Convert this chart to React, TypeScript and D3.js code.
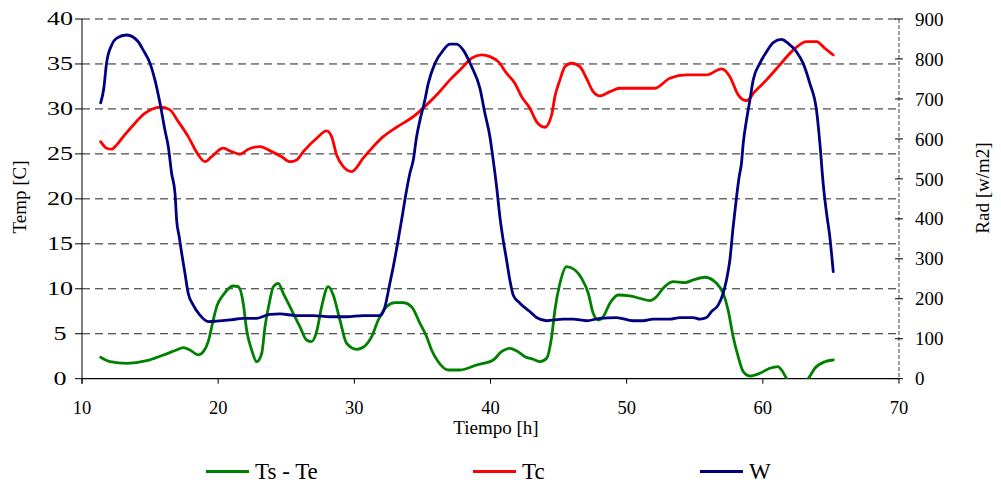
import React from "react";
import * as d3 from "d3";

const xTicks = [10, 20, 30, 40, 50, 60, 70];
const leftTicks = [0, 5, 10, 15, 20, 25, 30, 35, 40];
const rightTicks = [0, 100, 200, 300, 400, 500, 600, 700, 800, 900];

const wTime = [11.37, 11.6, 11.8, 12.18, 12.55, 13.28, 14.13, 14.5, 15.0, 15.36, 15.73, 16.09, 16.34, 16.58, 16.83, 16.95, 17.14, 17.32, 17.56, 17.8, 18.17, 18.66, 19.27, 19.89, 20.87, 21.84, 22.83, 23.8, 24.54, 25.76, 26.98, 28.2, 29.43, 30.65, 31.88, 32.25, 32.61, 32.86, 33.22, 33.47, 33.84, 34.08, 34.33, 34.57, 34.82, 35.18, 35.43, 35.92, 36.53, 37.02, 37.51, 38.0, 38.61, 39.22, 39.59, 39.96, 40.2, 40.45, 40.69, 40.93, 41.18, 41.42, 41.67, 42.16, 42.89, 43.38, 44.12, 45.34, 46.07, 47.05, 48.03, 49.25, 50.48, 51.21, 51.95, 53.17, 53.91, 54.89, 55.38, 55.87, 56.23, 56.72, 57.09, 57.33, 57.58, 57.82, 58.07, 58.26, 58.43, 58.56, 58.8, 59.05, 59.29, 59.78, 60.27, 60.76, 61.37, 61.86, 62.47, 62.96, 63.45, 63.94, 64.19, 64.43, 64.68, 64.92, 65.17];
const wValues = [690, 726, 789, 835, 852, 860, 843, 822, 789, 747, 689, 622, 580, 514, 464, 397, 355, 314, 264, 214, 184, 159, 143, 144, 147, 151, 151, 161, 162, 158, 158, 155, 155, 158, 158, 180, 239, 280, 347, 397, 472, 514, 547, 605, 647, 697, 739, 789, 822, 837, 837, 822, 781, 727, 664, 605, 547, 480, 405, 347, 297, 247, 209, 189, 168, 153, 145, 149, 149, 145, 151, 153, 145, 145, 149, 149, 153, 153, 149, 153, 168, 184, 214, 247, 297, 380, 455, 505, 539, 589, 647, 697, 747, 789, 818, 841, 849, 839, 818, 789, 739, 672, 589, 489, 414, 355, 268];

const tcTime = [11.37, 11.81, 12.18, 12.55, 13.03, 13.77, 14.63, 15.12, 15.85, 16.46, 17.07, 17.8, 18.54, 19.03, 19.52, 20.37, 20.99, 21.6, 22.21, 23.07, 23.93, 24.66, 25.27, 25.76, 26.25, 27.23, 27.97, 28.33, 28.7, 29.19, 29.8, 30.65, 31.39, 32.12, 33.1, 34.33, 35.31, 36.16, 37.02, 37.88, 38.61, 39.35, 39.96, 40.57, 41.18, 41.79, 42.28, 42.89, 43.38, 44.0, 44.49, 44.73, 45.1, 45.46, 45.95, 46.56, 47.05, 47.54, 48.03, 48.77, 49.5, 50.48, 52.07, 53.17, 54.4, 55.87, 56.97, 57.58, 58.19, 58.8, 59.41, 60.27, 61.25, 62.11, 63.21, 63.94, 64.55, 65.17];
const tcValues = [26.36, 25.63, 25.52, 26.0, 26.92, 28.22, 29.52, 29.97, 30.19, 29.89, 28.59, 26.92, 24.88, 24.14, 24.69, 25.63, 25.25, 24.96, 25.52, 25.81, 25.25, 24.69, 24.14, 24.33, 25.25, 26.74, 27.55, 26.92, 24.88, 23.58, 23.03, 24.52, 25.81, 26.92, 27.96, 29.14, 30.45, 31.75, 33.23, 34.53, 35.64, 36.01, 35.82, 35.26, 33.97, 32.86, 31.37, 30.08, 28.59, 27.96, 29.33, 31.37, 33.23, 34.7, 35.08, 34.7, 33.41, 31.92, 31.45, 31.92, 32.3, 32.3, 32.3, 33.41, 33.78, 33.78, 34.45, 33.59, 31.56, 30.92, 31.92, 33.23, 34.9, 36.37, 37.49, 37.49, 36.75, 36.0];

const dtTime = [11.37, 12.06, 13.28, 14.75, 15.97, 16.95, 17.44, 17.93, 18.54, 18.91, 19.27, 19.64, 19.89, 20.37, 21.1, 21.48, 21.84, 22.09, 22.46, 22.83, 23.2, 23.44, 23.8, 24.05, 24.42, 24.78, 25.39, 26.0, 26.49, 26.86, 27.23, 27.6, 28.08, 28.45, 28.94, 29.43, 30.17, 30.65, 31.27, 31.76, 32.37, 32.98, 33.59, 34.2, 34.82, 35.31, 35.67, 36.16, 36.9, 37.76, 38.98, 40.2, 40.81, 41.42, 41.91, 42.53, 43.14, 43.63, 44.12, 44.49, 44.73, 45.1, 45.59, 46.2, 46.69, 47.18, 47.54, 47.91, 48.28, 48.77, 49.38, 50.23, 50.97, 51.7, 52.19, 52.68, 53.41, 54.27, 54.89, 55.74, 56.6, 57.09, 57.45, 57.82, 58.19, 58.56, 59.05, 59.78, 60.51, 61.12, 61.37, 61.74, 62.3, 62.9, 63.33, 63.82, 64.55, 65.17];
const dtValues = [2.38, 1.89, 1.71, 2.0, 2.64, 3.19, 3.45, 3.19, 2.64, 3.0, 4.12, 6.53, 8.01, 9.31, 10.31, 10.23, 8.39, 5.42, 3.19, 1.89, 2.83, 5.78, 8.75, 10.23, 10.61, 9.5, 7.64, 5.78, 4.3, 4.12, 5.23, 8.01, 10.23, 9.31, 6.53, 3.94, 3.27, 3.49, 4.67, 6.53, 8.01, 8.45, 8.45, 8.01, 6.16, 4.67, 3.19, 1.89, 0.97, 0.97, 1.52, 2.08, 3.0, 3.38, 3.11, 2.45, 2.16, 1.89, 2.27, 4.67, 7.64, 10.61, 12.46, 12.09, 11.17, 9.5, 7.27, 6.53, 6.9, 8.39, 9.31, 9.2, 8.94, 8.68, 9.12, 10.06, 10.79, 10.68, 10.98, 11.28, 10.61, 9.5, 7.64, 4.67, 2.45, 0.78, 0.3, 0.6, 1.16, 1.34, 0.97, 0.05, -0.8, -0.6, 0, 1.16, 1.89, 2.08];

const legendItems = [
  { label: "Ts - Te", color: "#008000", x: 206 },
  { label: "Tc", color: "#ff0000", x: 473 },
  { label: "W", color: "#000080", x: 700 },
];

const W = 1001;
const H = 484;
const left = 82;
const right = 899;
const top = 19;
const bottom = 378.7;
const font = "Liberation Serif, Times New Roman, DejaVu Serif, serif";
const ts = (size: number) => ({ fontFamily: font, fontSize: size + "px" });

export default function App() {
  const x = d3.scaleLinear().domain([10, 70]).range([left, right]);
  const yL = d3.scaleLinear().domain([0, 40]).range([bottom, top]);
  const yR = d3.scaleLinear().domain([0, 900]).range([bottom, top]);

  const mk = (t: number[], v: number[], ys: d3.ScaleLinear<number, number>) =>
    d3
      .line<number>()
      .x((_, i) => x(t[i]))
      .y((d) => ys(d))
      .curve(d3.curveMonotoneX)(v) || "";

  const dtPath = mk(dtTime, dtValues, yL);
  const tcPath = mk(tcTime, tcValues, yL);
  const wPath = mk(wTime, wValues, yR);

  return (
    <svg
      width={W}
      height={H}
      style={{ position: "absolute", left: 0, top: 0, background: "#fff" }}
    >
      <defs>
        <clipPath id="plotclip">
          <rect x={left} y={top - 2} width={right - left} height={bottom - top + 2} />
        </clipPath>
      </defs>
      <rect x={0} y={0} width={W} height={H} fill="#fff" />

      {leftTicks.slice(1).map((t) => (
        <line key={"g" + t} x1={left} x2={right} y1={yL(t)} y2={yL(t)} stroke="#222" strokeWidth={1} strokeDasharray="8,5" />
      ))}

      <line x1={right} x2={right} y1={top} y2={bottom} stroke="#808080" strokeWidth={1.5} strokeDasharray="4,2" />

      <line x1={left} x2={left} y1={top} y2={bottom + 5} stroke="#000" strokeWidth={1} />
      {leftTicks.map((t) => (
        <g key={"l" + t}>
          <line x1={left - 7} x2={left} y1={yL(t)} y2={yL(t)} stroke="#000" strokeWidth={1} />
          <text
            transform={`translate(60,${yL(t)}) scale(1.45,1)`}
            dy="0.35em"
            textAnchor="middle"
            style={ts(18)}
            fill="#000"
          >
            {t}
          </text>
        </g>
      ))}

      {rightTicks.map((t) => (
        <g key={"r" + t}>
          <line x1={right - 4} x2={right + 4} y1={yR(t)} y2={yR(t)} stroke="#000" strokeWidth={1} />
          <text x={right + 16} y={yR(t)} dy="0.35em" textAnchor="start" style={ts(19)} fill="#000">
            {t}
          </text>
        </g>
      ))}

      <line x1={left} x2={right} y1={bottom} y2={bottom} stroke="#000" strokeWidth={1.2} />
      {xTicks.map((t) => (
        <g key={"x" + t}>
          <line x1={x(t)} x2={x(t)} y1={bottom} y2={bottom + 5} stroke="#000" strokeWidth={1} />
          <text x={x(t)} y={414} textAnchor="middle" style={ts(18.5)} fill="#000">
            {t}
          </text>
        </g>
      ))}

      <g clipPath="url(#plotclip)" fill="none" strokeWidth={2.8} strokeLinejoin="round" strokeLinecap="round">
        <path d={dtPath} stroke="#008000" />
        <path d={tcPath} stroke="#ff0000" />
        <path d={wPath} stroke="#000080" />
      </g>

      <text x={496} y={434} textAnchor="middle" style={ts(19)} fill="#000">
        Tiempo [h]
      </text>
      <text transform="translate(26,197) rotate(-90)" textAnchor="middle" style={ts(19)} fill="#000">
        Temp [C]
      </text>
      <text transform="translate(989,188) rotate(-90)" textAnchor="middle" style={ts(19)} fill="#000">
        Rad [w/m2]
      </text>

      {legendItems.map((it) => (
        <g key={it.label}>
          <line x1={it.x} x2={it.x + 43} y1={471.5} y2={471.5} stroke={it.color} strokeWidth={3} />
          <text x={it.x + 49} y={479} style={ts(23)} fill="#000">
            {it.label}
          </text>
        </g>
      ))}
    </svg>
  );
}
